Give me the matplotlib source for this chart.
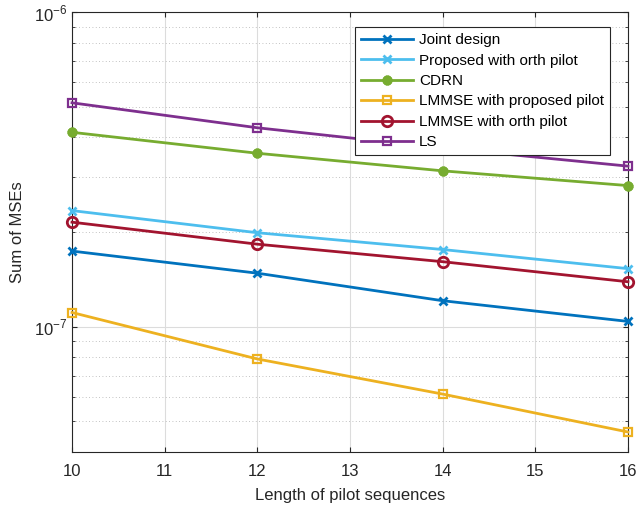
import matplotlib
matplotlib.use('Agg')
import matplotlib.pyplot as plt
from matplotlib.ticker import LogLocator, NullFormatter, FuncFormatter
import numpy as np

plt.rcParams['font.family'] = ['Liberation Sans', 'DejaVu Sans']
plt.rcParams['mathtext.fontset'] = 'custom'
plt.rcParams['mathtext.rm'] = 'Liberation Sans'

# pilot lengths and MSE curves
pilot_len = [10, 12, 14, 16]
joint = [1.74e-7, 1.48e-7, 1.21e-7, 1.04e-7]
prop_orth = [2.34e-7, 1.99e-7, 1.76e-7, 1.53e-7]
cdrn = [4.15e-7, 3.56e-7, 3.13e-7, 2.81e-7]
lmmse_prop = [1.11e-7, 7.9e-8, 6.11e-8, 4.63e-8]
lmmse_orth = [2.15e-7, 1.83e-7, 1.61e-7, 1.39e-7]
ls = [5.15e-7, 4.29e-7, 3.70e-7, 3.24e-7]

fig = plt.figure(figsize=(6.39, 5.05), dpi=100)
ax = fig.add_axes([0.1127, 0.105, 0.870, 0.871])

lw = 2.0
common = dict(lw=lw, clip_on=False, zorder=3)
ax.plot(pilot_len, joint, color='#0072BD', marker='x', ms=6, mew=2, label='Joint design', **common)
ax.plot(pilot_len, prop_orth, color='#4DBEEE', marker='x', ms=6, mew=2,
        label='Proposed with orth pilot', **common)
ax.plot(pilot_len, cdrn, color='#77AC30', marker=(8, 2, 0), ms=7, mew=2.5, label='CDRN', **common)
ax.plot(pilot_len, lmmse_prop, color='#EDB120', marker='s', ms=5.5, mew=1.6, mfc='none',
        label='LMMSE with proposed pilot', **common)
ax.plot(pilot_len, lmmse_orth, color='#A2142F', marker='o', ms=7.5, mew=2, mfc='none',
        label='LMMSE with orth pilot', **common)
ax.plot(pilot_len, ls, color='#7E2F8E', marker='s', ms=5.5, mew=1.6, mfc='none', label='LS', **common)

ax.set_yscale('log')
ax.set_xlim(10, 16)
ax.set_ylim(4e-8, 1e-6)
ax.set_xticks(range(10, 17))
ax.yaxis.set_major_locator(LogLocator(base=10))
ax.yaxis.set_major_formatter(FuncFormatter(lambda v, p: '10$^{\\mathregular{-%d}}$' % round(-np.log10(v))))
ax.yaxis.set_minor_locator(LogLocator(base=10, subs=range(2, 10)))
ax.yaxis.set_minor_formatter(NullFormatter())

ax.grid(True, which='major', color='#dcdcdc', lw=0.8)
ax.grid(True, which='minor', axis='y', color='#b0b0b0', lw=0.6, ls=(0, (1, 3)))
ax.set_axisbelow(True)

for s in ax.spines.values():
    s.set_color('#262626')
    s.set_linewidth(0.8)
ax.tick_params(which='both', direction='in', top=True, right=True, colors='#262626',
               labelsize=12, labelcolor='#262626')
ax.tick_params(axis='x', pad=9)

ax.set_xlabel('Length of pilot sequences', fontsize=12, color='#262626', labelpad=6)
ax.set_ylabel('Sum of MSEs', fontsize=12, color='#262626', labelpad=6)

leg = ax.legend(loc='upper right', bbox_to_anchor=(0.9676, 0.966), borderaxespad=0,
                fontsize=11, fancybox=False, framealpha=1, edgecolor='#262626',
                handlelength=3.4, labelspacing=0.42, borderpad=0.4, handletextpad=0.4)
leg.get_frame().set_linewidth(0.8)
for h in leg.legend_handles:
    h.set_clip_on(True)

fig.savefig('out.png', dpi=100)
